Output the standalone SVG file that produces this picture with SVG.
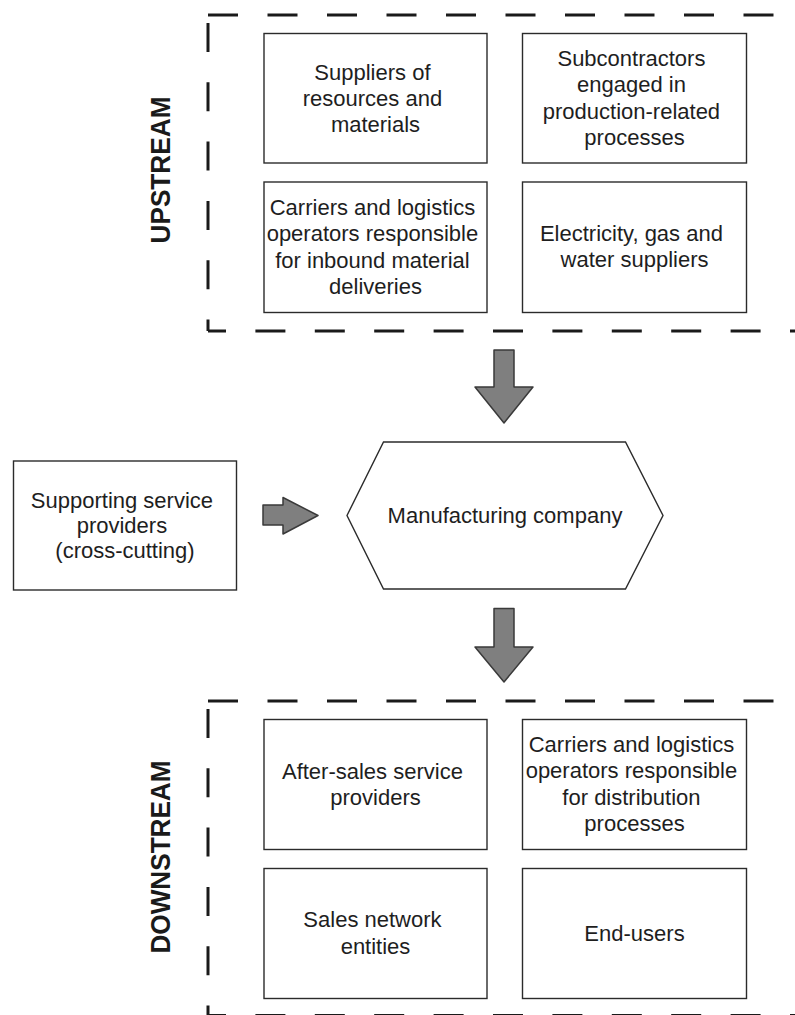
<svg xmlns="http://www.w3.org/2000/svg" width="795" height="1015" viewBox="0 0 795 1015">
  <style>
    .bg { fill: #ffffff; }
    .box { fill: #ffffff; stroke: #2b2b2b; stroke-width: 1.4; }
    .lbl { font-family: "Liberation Sans", Arial, sans-serif; font-size: 22px; fill: #1e1e1e; text-anchor: middle; }
    .side { font-family: "Liberation Sans", Arial, sans-serif; font-size: 27px; font-weight: bold; fill: #1a1a1a; text-anchor: middle; }
    .dashH { fill: none; stroke: #1a1a1a; stroke-width: 3; stroke-dasharray: 30 29.5; }
    .dashV { fill: none; stroke: #1a1a1a; stroke-width: 3; stroke-dasharray: 29 30.3; }
    .dashB { fill: none; stroke: #1a1a1a; stroke-width: 3; stroke-dasharray: 30 29.4; stroke-dashoffset: 12; }
    .flow { fill: #7f7f7f; stroke: #3a3a3a; stroke-width: 1.5; stroke-linejoin: round; }
  </style>

  <rect class="bg" x="0" y="0" width="795" height="1015"/>

  <!-- Upstream group frame (open to the right) -->
  <g id="upstream">
    <path class="dashH" d="M208 15 H800"/>
    <path class="dashV" d="M208 23 V331"/>
    <path class="dashB" d="M208 331 H800"/>
    <text class="side" transform="translate(170,170) rotate(-90)" textLength="147" lengthAdjust="spacingAndGlyphs">UPSTREAM</text>
  </g>

  <g id="suppliers">
    <rect class="box" x="264" y="33.5" width="223" height="129.5"/>
    <text class="lbl" x="375.5">
      <tspan x="375.5" y="79.5">Suppliers of</tspan>
      <tspan x="375.5" y="105.8">resources and</tspan>
      <tspan x="375.5" y="132.1">materials</tspan>
    </text>
  </g>

  <g id="subcontractors">
    <rect class="box" x="522.5" y="33.5" width="224" height="129.5"/>
    <text class="lbl" x="634.5">
      <tspan x="634.5" y="66">Subcontractors</tspan>
      <tspan x="634.5" y="92.3">engaged in</tspan>
      <tspan x="634.5" y="118.6">production-related</tspan>
      <tspan x="634.5" y="144.9">processes</tspan>
    </text>
  </g>

  <g id="inbound-logistics">
    <rect class="box" x="264" y="182" width="223" height="130.5"/>
    <text class="lbl" x="375.5">
      <tspan x="375.5" y="215">Carriers and logistics</tspan>
      <tspan x="375.5" y="241.3">operators responsible</tspan>
      <tspan x="375.5" y="267.6">for inbound material</tspan>
      <tspan x="375.5" y="293.9">deliveries</tspan>
    </text>
  </g>

  <g id="utilities">
    <rect class="box" x="522.5" y="182" width="224" height="130.5"/>
    <text class="lbl" x="634.5">
      <tspan x="634.5" y="241">Electricity, gas and</tspan>
      <tspan x="634.5" y="267.3">water suppliers</tspan>
    </text>
  </g>

  <!-- Central company and cross-cutting services -->
  <g id="support-services">
    <rect class="box" x="13.5" y="461" width="223" height="129"/>
    <text class="lbl" x="125">
      <tspan x="125" y="507.5">Supporting service</tspan>
      <tspan x="125" y="532.5">providers</tspan>
      <tspan x="125" y="557.5">(cross-cutting)</tspan>
    </text>
  </g>

  <g id="manufacturer">
    <polygon class="box" points="347,515.5 383.5,442 625.5,442 663,515.5 625.5,589 383.5,589"/>
    <text class="lbl" x="505" y="522.5">Manufacturing company</text>
  </g>

  <!-- Downstream group frame (open to the right) -->
  <g id="downstream">
    <path class="dashH" d="M208 701 H800"/>
    <path class="dashV" d="M208 709 V1015.5"/>
    <path class="dashB" d="M208 1015.5 H800"/>
    <text class="side" transform="translate(170,857) rotate(-90)" textLength="193" lengthAdjust="spacingAndGlyphs">DOWNSTREAM</text>
  </g>

  <g id="after-sales">
    <rect class="box" x="264" y="719.5" width="223" height="130"/>
    <text class="lbl" x="375.5">
      <tspan x="375.5" y="778.5">After-sales service</tspan>
      <tspan x="375.5" y="804.8">providers</tspan>
    </text>
  </g>

  <g id="distribution-logistics">
    <rect class="box" x="522.5" y="719.5" width="224" height="130"/>
    <text class="lbl" x="634.5">
      <tspan x="634.5" y="752">Carriers and logistics</tspan>
      <tspan x="634.5" y="778.3">operators responsible</tspan>
      <tspan x="634.5" y="804.6">for distribution</tspan>
      <tspan x="634.5" y="830.9">processes</tspan>
    </text>
  </g>

  <g id="sales-network">
    <rect class="box" x="264" y="868.5" width="223" height="130"/>
    <text class="lbl" x="375.5">
      <tspan x="375.5" y="927.3">Sales network</tspan>
      <tspan x="375.5" y="953.6">entities</tspan>
    </text>
  </g>

  <g id="end-users">
    <rect class="box" x="522.5" y="868.5" width="224" height="130"/>
    <text class="lbl" x="634.5" y="940.5">End-users</text>
  </g>

  <!-- Block arrows between stages -->
  <g id="connectors">
    <path class="flow" d="M494 350 H514 V387 H533 L504 423 L475 387 H494 Z"/>
    <path class="flow" d="M263 505 H283 V497.5 L318 515.5 L283 534 V525 H263 Z"/>
    <path class="flow" d="M494 608.5 H514 V647 H533 L504 682 L475 647 H494 Z"/>
  </g>
</svg>
